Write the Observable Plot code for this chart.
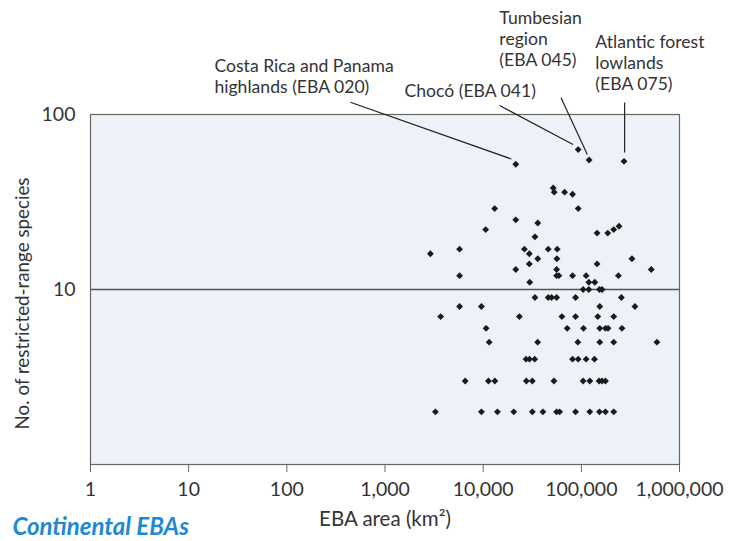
<!DOCTYPE html>
<html><head><meta charset="utf-8">
<script src="https://cdn.jsdelivr.net/npm/d3@7"></script>
<script src="https://cdn.jsdelivr.net/npm/@observablehq/plot@0.6"></script>
<style>body{margin:0;background:#fff;} #chart svg{display:block;}</style>
</head><body><div id="chart"></div>
<script>
// EBA area (km²) and number of restricted-range species
const areas = [
  21500, 13100, 21500, 36000, 10600, 33700, 2900, 5750, 26300, 29500, 36000, 5750, 21500, 29500, 29800,
  92900, 120000, 272000, 51700, 52900, 67500, 81400, 92900, 144700, 185800, 213800, 242000,
  46000, 56800, 56400, 328000, 144700, 56000, 56000, 59100, 81400, 111900, 238600, 516000, 119200, 137100,
  104300, 119200, 153000, 162600,
  33700, 46000, 49800, 56000, 87300, 255900,
  5750, 9600, 154100, 351600,
  3690, 23380, 63400, 87300, 147100, 213800,
  10720, 71800, 105200, 154100, 176100, 187100, 259500,
  11510, 35900, 92100, 154100, 213800, 588500,
  27340, 29650, 33500, 81400, 92900, 111900, 136100,
  6560, 11320, 13150, 27540, 31680, 52600, 104300, 122000, 151700, 162600, 176100,
  3260, 9600, 13970, 20500, 31680, 40640, 56000, 60100, 87300, 122000, 153000, 176100, 213800
];
const species = [
  52, 29, 25, 24, 22, 20, 16, 17, 17, 16, 15, 12, 13, 14, 11,
  63, 55, 54, 38, 36, 36, 35, 29, 21, 21, 22, 23,
  17, 17, 15, 15, 14, 13, 12, 12, 12, 12, 12, 13, 11, 11,
  10, 10, 10, 10,
  9, 9, 9, 9, 9, 9,
  8, 8, 8, 8,
  7, 7, 7, 7, 7, 7,
  6, 6, 6, 6, 6, 6, 6,
  5, 5, 5, 5, 5, 5,
  4, 4, 4, 4, 4, 4, 4,
  3, 3, 3, 3, 3, 3, 3, 3, 3, 3, 3,
  2, 2, 2, 2, 2, 2, 2, 2, 2, 2, 2, 2, 2
];
const xTicks = [1, 10, 100, 1000, 10000, 100000, 1000000];
const yTicks = [10, 100];

// Annotations (positions in data units)
const annoNames = ["Costa Rica and Panama\nhighlands (EBA 020)", "Chocó (EBA 041)", "Tumbesian\nregion\n(EBA 045)", "Atlantic forest\nlowlands\n(EBA 075)"];
const annoTextX = [18.3, 1577, 14620, 139000];
const annoTextY = [166, 137, 273.5, 198];
const leaderX1 = [444, 14720, 62100, 276000];
const leaderY1 = [117.5, 112.5, 124.6, 117.1];
const leaderX2 = [19370, 82300, 115100, 276000];
const leaderY2 = [55.7, 67.4, 59.1, 60.6];

const points = areas.map((a, i) => ({area: a, species: species[i]}));
const annos = annoNames.map((n, i) => ({name: n, tx: annoTextX[i], ty: annoTextY[i], x1: leaderX1[i], y1: leaderY1[i], x2: leaderX2[i], y2: leaderY2[i]}));

const chart = Plot.plot({
  width: 730, height: 541,
  marginLeft: 90, marginRight: 51, marginTop: 114, marginBottom: 77,
  x: {type: "log", domain: [1, 1e6]},
  y: {type: "log", domain: [1, 100]},
  style: {fontFamily: "Lato, sans-serif", fontSize: "17px", color: "#333", background: "white"},
  marks: [
    Plot.frame({fill: "#edf2f9", stroke: "none"}),
    Plot.ruleY([10], {stroke: "#555", strokeWidth: 1.5}),
    Plot.frame({stroke: "#666", strokeWidth: 1.2}),
    Plot.axisX({ticks: xTicks, tickFormat: d3.format(","), tickSize: 8, tickPadding: 10, stroke: "#666", fill: "#333", label: null, fontSize: 19.5}),
    Plot.axisY({ticks: yTicks, tickFormat: d => String(d), tickSize: 0, tickPadding: 15, fill: "#333", label: null, fontSize: 19.5}),
    Plot.dot(points, {x: "area", y: "species", symbol: "diamond2", r: 3.1, fill: "#1a1a1a"}),
    Plot.link(annos, {x1: "x1", y1: "y1", x2: "x2", y2: "y2", stroke: "#222", strokeWidth: 1.2}),
    Plot.text(annos, {x: "tx", y: "ty", text: "name", textAnchor: "start", lineAnchor: "middle", lineHeight: 1.2, fill: "#333", fontSize: 17.6}),
    Plot.text(["No. of restricted-range species"], {frameAnchor: "left", textAnchor: "middle", rotate: -90, dx: -68, dy: 14, fill: "#333", fontSize: 18.8}),
    Plot.text(["EBA area (km²)"], {frameAnchor: "bottom", textAnchor: "middle", dy: 61, fill: "#333", fontSize: 20.5}),
    Plot.text(["Continental EBAs"], {frameAnchor: "bottom-left", dx: -78, dy: 70, textAnchor: "start", fill: "#1e88d2", fontWeight: "bold", fontStyle: "italic", fontSize: 24})
  ]
});
document.getElementById("chart").appendChild(chart);
</script>
</body></html>
